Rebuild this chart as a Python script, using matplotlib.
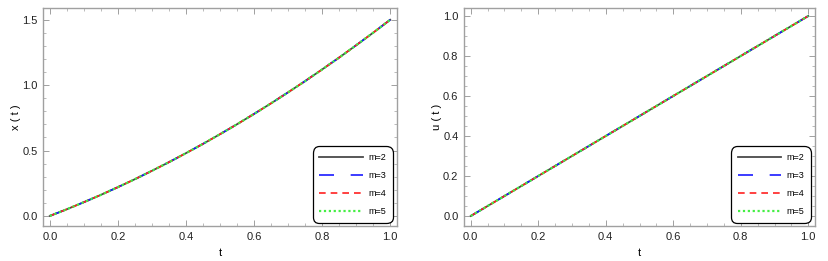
import matplotlib.pyplot as plt
from matplotlib.ticker import MultipleLocator

plt.rcParams['font.family'] = ['Liberation Sans', 'DejaVu Sans']

# values (all four m curves overlap)
t = [0.0, 0.05, 0.1, 0.15, 0.2, 0.25, 0.3, 0.35, 0.4, 0.45, 0.5,
     0.55, 0.6, 0.65, 0.7, 0.75, 0.8, 0.85, 0.9, 0.95, 1.0]
x_t = [0.0, 0.051, 0.105, 0.161, 0.22, 0.281, 0.345, 0.411, 0.48, 0.551, 0.625,
       0.701, 0.78, 0.861, 0.945, 1.031, 1.12, 1.211, 1.305, 1.401, 1.5]
u_t = [0.0, 0.05, 0.1, 0.15, 0.2, 0.25, 0.3, 0.35, 0.4, 0.45, 0.5,
       0.55, 0.6, 0.65, 0.7, 0.75, 0.8, 0.85, 0.9, 0.95, 1.0]
labels = ['m=2', 'm=3', 'm=4', 'm=5']

styles = [
    dict(color='#4a4a4a', linestyle='-', lw=1.3),
    dict(color='#1a1aff', linestyle=(0, (9, 10)), lw=1.2),
    dict(color='#ff2020', linestyle=(0, (4, 3)), lw=1.2),
    dict(color='#44ee44', linestyle=(0, (1, 1.2)), lw=1.6),
]

fig = plt.figure(figsize=(8.29, 2.61), dpi=100)
ax1 = fig.add_axes([43 / 829, 35 / 261, 354 / 829, 218 / 261])
ax2 = fig.add_axes([464 / 829, 35 / 261, 351 / 829, 218 / 261])

frame_col = '#a0a0a0'


def style_axes(ax, ylabel, ylim, ymajor, yminor):
    ax.set_xlim(-0.02, 1.02)
    ax.set_ylim(*ylim)
    ax.xaxis.set_major_locator(MultipleLocator(0.2))
    ax.xaxis.set_minor_locator(MultipleLocator(0.05))
    ax.yaxis.set_major_locator(MultipleLocator(ymajor))
    ax.yaxis.set_minor_locator(MultipleLocator(yminor))
    ax.tick_params(which='both', direction='in', top=True, right=True,
                   color=frame_col, labelsize=8, labelcolor='#222222', pad=4)
    ax.tick_params(which='major', length=4, width=0.7)
    ax.tick_params(which='minor', length=2, width=0.5)
    for s in ax.spines.values():
        s.set_color(frame_col)
        s.set_linewidth(1.0)
    ax.set_xlabel('t', fontsize=8, labelpad=5)
    ax.set_ylabel(ylabel, fontsize=8, labelpad=1)
    leg = ax.legend(loc='lower right', bbox_to_anchor=(0.988, 0.014),
                    borderaxespad=0, fontsize=6.5, handlelength=4.8,
                    labelspacing=1.0, borderpad=0.75, handletextpad=0.6,
                    fancybox=True, framealpha=1)
    leg.get_frame().set_edgecolor('black')
    leg.get_frame().set_linewidth(0.9)
    leg.get_frame().set_boxstyle('round', pad=0, rounding_size=0.7)


for lab, st in zip(labels, styles):
    ax1.plot(t, x_t, label=lab, **st)
    ax2.plot(t, u_t, label=lab, **st)

style_axes(ax1, 'x ( t )', (-0.077, 1.59), 0.5, 0.1)
style_axes(ax2, 'u ( t )', (-0.05, 1.04), 0.2, 0.05)

fig.savefig('out.png', dpi=100)
